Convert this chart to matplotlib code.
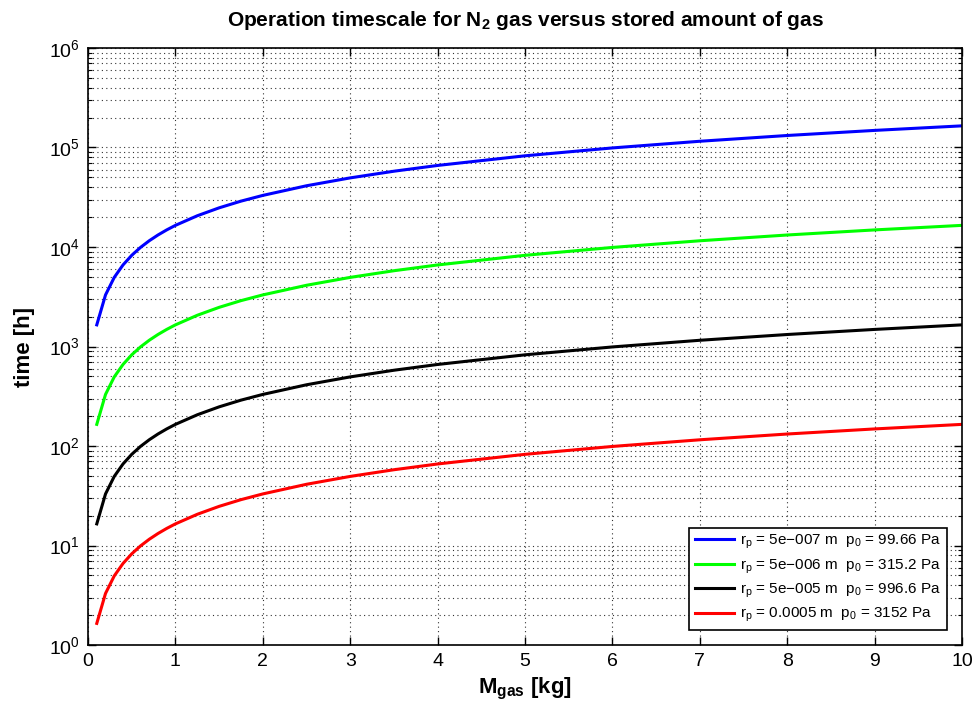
import matplotlib
matplotlib.use('Agg')
import matplotlib.pyplot as plt
from matplotlib.ticker import LogLocator, NullFormatter, MultipleLocator

plt.rcParams['font.family'] = ['Liberation Sans', 'DejaVu Sans']
plt.rcParams['mathtext.fontset'] = 'custom'
plt.rcParams['mathtext.rm'] = 'Liberation Sans'
plt.rcParams['mathtext.it'] = 'Liberation Sans'
plt.rcParams['mathtext.bf'] = 'Liberation Sans:bold'

# stored gas mass [kg]
m_gas = [0.1, 0.2, 0.3, 0.4, 0.5, 0.6, 0.7, 0.8, 0.9, 1.0, 1.25, 1.5, 1.75,
         2.0, 2.5, 3.0, 3.5, 4.0, 5.0, 6.0, 7.0, 8.0, 9.0, 10.0]

# operation time [h]
t_blue = [1650, 3300, 4950, 6600, 8250, 9900, 11550, 13200, 14850, 16500,
          20600, 24750, 28900, 33000, 41250, 49500, 57750, 66000, 82500,
          99000, 115500, 132000, 148500, 165000]
t_green = [165, 330, 495, 660, 825, 990, 1155, 1320, 1485, 1650,
           2060, 2475, 2890, 3300, 4125, 4950, 5775, 6600, 8250,
           9900, 11550, 13200, 14850, 16500]
t_black = [16.5, 33, 49.5, 66, 82.5, 99, 115.5, 132, 148.5, 165,
           206, 247.5, 289, 330, 412.5, 495, 577.5, 660, 825,
           990, 1155, 1320, 1485, 1650]
t_red = [1.65, 3.3, 4.95, 6.6, 8.25, 9.9, 11.55, 13.2, 14.85, 16.5,
         20.6, 24.75, 28.9, 33, 41.25, 49.5, 57.75, 66, 82.5,
         99, 115.5, 132, 148.5, 165]

labels = [
    r'r$_\mathrm{p}$ = 5e−007 m  p$_\mathrm{0}$ = 99.66 Pa',
    r'r$_\mathrm{p}$ = 5e−006 m  p$_\mathrm{0}$ = 315.2 Pa',
    r'r$_\mathrm{p}$ = 5e−005 m  p$_\mathrm{0}$ = 996.6 Pa',
    r'r$_\mathrm{p}$ = 0.0005 m  p$_\mathrm{0}$ = 3152 Pa',
]
series = [t_blue, t_green, t_black, t_red]
colors = ['#0000ff', '#00ff00', '#000000', '#ff0000']

fig = plt.figure(figsize=(9.76, 7.14), dpi=100)
ax = fig.add_axes([0.0902, 0.0966, 0.8955, 0.8362])

for t, c, lab in zip(series, colors, labels):
    ax.plot(m_gas, t, color=c, lw=2.2, label=lab)

ax.set_yscale('log')
ax.set_xlim(0, 10)
ax.set_ylim(1, 1e6)
ax.xaxis.set_major_locator(MultipleLocator(1))
ax.yaxis.set_major_locator(LogLocator(base=10, numticks=10))
ax.yaxis.set_minor_locator(LogLocator(base=10, subs=range(2, 10), numticks=20))
ax.yaxis.set_minor_formatter(NullFormatter())

grid_style = dict(linestyle=(0, (1, 3)), color='#333333', lw=0.8)
ax.grid(True, which='major', **grid_style)
ax.grid(True, which='minor', axis='y', **grid_style)

ax.tick_params(which='both', direction='in', top=True, right=True)
ax.tick_params(which='major', length=6, labelsize=14, width=1, pad=6)
ax.tick_params(which='minor', length=3, width=0.8)
for sp in ax.spines.values():
    sp.set_linewidth(1.2)

ax.set_xlabel(r'$\mathbf{M_{gas}}$ [kg]', fontsize=16, fontweight='bold', labelpad=4)
ax.set_ylabel('time [h]', fontsize=16, fontweight='bold', labelpad=10)
ax.set_title(r'Operation timescale for $\mathbf{N_2}$ gas versus stored amount of gas',
             fontsize=15, fontweight='bold', pad=16)

leg = ax.legend(loc='lower right', fontsize=11, fancybox=False, framealpha=1,
                edgecolor='black', handlelength=2.6, borderaxespad=1.0,
                labelspacing=0.4, handletextpad=0.4, borderpad=0.35)
leg.get_frame().set_linewidth(1.2)

fig.savefig('out.png', dpi=100)
